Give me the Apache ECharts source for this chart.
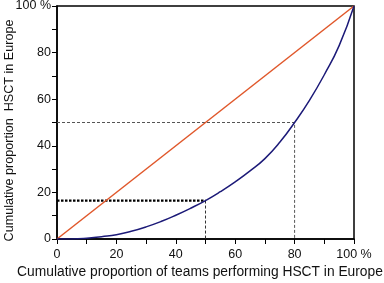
<!DOCTYPE html>
<html>
<head>
<meta charset="utf-8">
<script src="https://cdn.jsdelivr.net/npm/echarts@6/dist/echarts.min.js"></script>
<style>
  html, body { margin: 0; padding: 0; background: #fff; }
  #chart { width: 384px; height: 283px; }
</style>
</head>
<body>
<div id="chart"></div>
<script>
"use strict";

// cumulative proportion of teams (x) vs cumulative proportion of HSCT (y)
var teamsPct = [0, 5, 10, 15, 20, 25, 30, 35, 40, 45, 50, 55, 60, 65, 70, 75, 80, 85, 90, 95, 100];
var hsctPct = [0, 0, 0.3, 1, 1.8, 3.3, 5.2, 7.5, 10.2, 13.2, 16.5, 20.3, 24.5, 29.2, 34.5, 41.5, 50, 59.5, 70.5, 83, 100];
// line of equality
var equalX = [0, 100];
var equalY = [0, 100];
// reading guides
var guide50X = [0, 80, 80];
var guide50Y = [50, 50, 0];
var guideTopX = [0, 50];
var guideTopY = [16.5, 16.5];
var guideDropX = [50, 50];
var guideDropY = [16.5, 0];

function pairs(xs, ys) {
  return xs.map(function (x, i) { return [x, ys[i]]; });
}

var chart = echarts.init(document.getElementById("chart"));
var font = "Liberation Sans, Arial, sans-serif";

var axisCommon = {
  type: "value",
  min: 0,
  max: 100,
  interval: 20,
  nameMoveOverlap: false,
  axisLine: { show: true, lineStyle: { color: "#000", width: 1.5 } },
  axisTick: { show: true, length: 5, lineStyle: { color: "#000", width: 1 } },
  minorTick: { show: true, splitNumber: 2, length: 5, lineStyle: { color: "#000", width: 1 } },
  splitLine: { show: false },
  axisLabel: {
    color: "#111",
    fontSize: 12.5,
    fontFamily: font,
    formatter: function (v) { return v === 100 ? "100 %" : String(v); }
  },
  nameTextStyle: { color: "#111", fontSize: 13.5, fontFamily: font }
};

var option = {
  animation: false,
  grid: {
    left: 57, right: 30, top: 6, bottom: 44,
    outerBoundsMode: "none",
    containLabel: false,
    show: true, borderColor: "#000", borderWidth: 1.5
  },
  xAxis: Object.assign({}, axisCommon, {
    name: "Cumulative proportion of teams performing HSCT in Europe",
    nameLocation: "middle",
    nameGap: 26,
    nameTextStyle: Object.assign({}, axisCommon.nameTextStyle, { fontSize: 13.8, padding: [0, 11, 0, 0] }),
    axisLabel: Object.assign({}, axisCommon.axisLabel, { margin: 9 })
  }),
  yAxis: Object.assign({}, axisCommon, {
    name: "Cumulative proportion  HSCT in Europe",
    nameLocation: "middle",
    nameGap: 41,
    nameTextStyle: Object.assign({}, axisCommon.nameTextStyle, { fontSize: 12.6, padding: [0, 16, 0, 0] }),
    axisLabel: Object.assign({}, axisCommon.axisLabel, { margin: 6 })
  }),
  series: [{
    type: "line",
    data: pairs(guide50X, guide50Y),
    symbol: "none",
    lineStyle: { color: "#555", width: 1, type: [3, 2] }
  }, {
    type: "line",
    data: pairs(guideDropX, guideDropY),
    symbol: "none",
    lineStyle: { color: "#333", width: 1, type: [3, 2] }
  }, {
    type: "line",
    data: pairs(guideTopX, guideTopY),
    symbol: "none",
    lineStyle: { color: "#000", width: 2.2, type: [2.5, 1.5] }
  }, {
    type: "line",
    data: pairs(equalX, equalY),
    symbol: "none",
    lineStyle: { color: "#e0572a", width: 1.5 }
  }, {
    type: "line",
    data: pairs(teamsPct, hsctPct),
    symbol: "none",
    smooth: 0.5,
    lineStyle: { color: "#1c1a78", width: 1.5 }
  }]
};

chart.setOption(option);
</script>
</body>
</html>
